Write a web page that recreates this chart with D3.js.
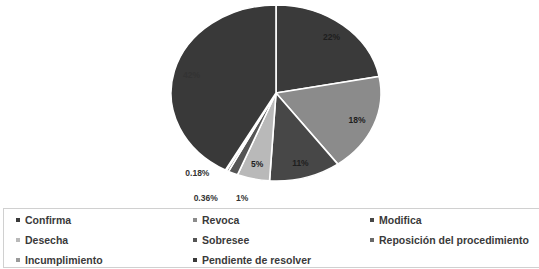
<!DOCTYPE html>
<html>
<head>
<meta charset="utf-8">
<script src="https://cdn.jsdelivr.net/npm/d3@7"></script>
<style>
  body { margin: 0; background: #fff; }
  text { font-family: "Liberation Sans", Arial, sans-serif; }
</style>
</head>
<body>
<div id="chart"></div>
<script>
// data
const categories = ['Confirma', 'Revoca', 'Modifica', 'Desecha', 'Sobresee',
  'Reposición del procedimiento', 'Incumplimiento', 'Pendiente de resolver'];
const values = [22, 18, 11, 5, 1.5, 0.36, 0.18, 42];
const labels = ['22%', '18%', '11%', '5%', '1%', '0.36%', '0.18%', '42%'];

// styling
const colors = ['#3a3a3a', '#8b8b8b', '#474747', '#b9b9b9', '#555555', '#6a6a6a', '#9a9a9a', '#393939'];
// label nudges for the tiny slices (pixels)
const nudges = [[0, 0], [0, 0], [0, 0], [0, 0], [2, 38], [-30, 40], [-37, 16], [0, 0]];

const w = 539;
const h = 269;
const cx = 276;
const cy = 93;
const rx = 105;
const ry = 88;
const ky = ry / rx;

const svg = d3.select('#chart')
  .append('svg')
  .attr('width', w)
  .attr('height', h);

const pie = d3.pie().sort(null).value((d) => d);
const arcs = pie(values);

const arc = d3.arc().innerRadius(0).outerRadius(rx);
const labelArc = d3.arc().innerRadius(rx * 0.83).outerRadius(rx * 0.83);

// slices (stretched into an ellipse)
svg.append('g')
  .attr('transform', `translate(${cx},${cy}) scale(1,${ky})`)
  .selectAll('path')
  .data(arcs)
  .enter()
  .append('path')
  .attr('d', arc)
  .attr('fill', (d, i) => colors[i])
  .attr('stroke', '#fff')
  .attr('stroke-width', 1.6)
  .attr('vector-effect', 'non-scaling-stroke');

// percent labels
svg.append('g')
  .attr('transform', `translate(${cx},${cy})`)
  .selectAll('text')
  .data(arcs)
  .enter()
  .append('text')
  .attr('x', (d, i) => labelArc.centroid(d)[0] + nudges[i][0])
  .attr('y', (d, i) => labelArc.centroid(d)[1] * ky + nudges[i][1])
  .attr('text-anchor', 'middle')
  .attr('dy', '0.35em')
  .attr('font-size', 8.5)
  .attr('font-weight', 'bold')
  .attr('fill', (d, i) => (i >= 4 ? '#333' : '#1e1e1e'))
  .text((d, i) => labels[i]);

// legend
const legend = svg.append('g').attr('id', 'legend');

legend.append('rect')
  .attr('x', 3.5)
  .attr('y', 208.5)
  .attr('width', 545)
  .attr('height', 59)
  .attr('fill', 'none')
  .attr('stroke', '#d0d0d0');

const colX = d3.scalePoint().domain([0, 1, 2]).range([18, 372]);
const rowY = d3.scalePoint().domain([0, 1, 2]).range([220, 260]);

const items = legend.selectAll('g.item')
  .data(categories)
  .enter()
  .append('g')
  .attr('class', 'item')
  .attr('transform', (d, i) => `translate(${colX(i % 3)},${rowY(Math.floor(i / 3))})`);

items.append('rect')
  .attr('x', -2)
  .attr('y', -2)
  .attr('width', 4)
  .attr('height', 4)
  .attr('fill', (d, i) => colors[i]);

items.append('text')
  .attr('x', 7)
  .attr('dy', '0.35em')
  .attr('font-size', 10.5)
  .attr('font-weight', 'bold')
  .attr('fill', '#3a3a3a')
  .text((d) => d);
</script>
</body>
</html>
